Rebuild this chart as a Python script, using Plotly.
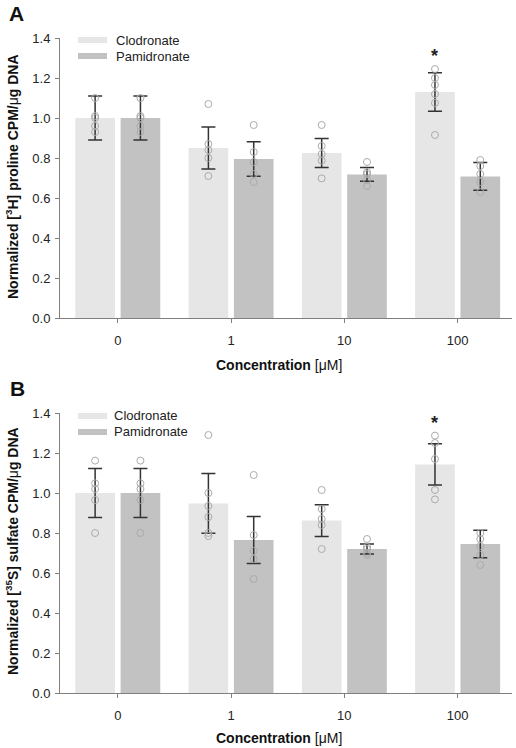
import plotly.graph_objects as go

# ---------------- data ----------------
categories = ["0", "1", "10", "100"]

# Panel A: [3H] proline
a_clod_mean = [1.00, 0.85, 0.825, 1.13]
a_clod_sd = [0.11, 0.105, 0.073, 0.096]
a_pam_mean = [1.00, 0.795, 0.718, 0.708]
a_pam_sd = [0.11, 0.086, 0.034, 0.069]
a_clod_pts = [
    [1.10, 1.01, 1.00, 0.96, 0.93],
    [1.07, 0.87, 0.84, 0.80, 0.71],
    [0.965, 0.86, 0.82, 0.787, 0.698],
    [1.245, 1.20, 1.165, 1.12, 1.075, 0.915],
]
a_pam_pts = [
    [1.10, 1.01, 1.00, 0.96, 0.93],
    [0.965, 0.83, 0.78, 0.72, 0.68],
    [0.78, 0.73, 0.72, 0.69, 0.66],
    [0.79, 0.76, 0.72, 0.68, 0.63],
]

# Panel B: [35S] sulfate
b_clod_mean = [1.00, 0.948, 0.862, 1.143]
b_clod_sd = [0.122, 0.149, 0.079, 0.103]
b_pam_mean = [1.00, 0.765, 0.72, 0.745]
b_pam_sd = [0.122, 0.117, 0.025, 0.069]
b_clod_pts = [
    [1.162, 1.048, 1.02, 0.965, 0.80],
    [1.29, 1.0, 0.935, 0.88, 0.80, 0.785],
    [1.015, 0.92, 0.87, 0.84, 0.72],
    [1.287, 1.25, 1.17, 1.015, 0.968],
]
b_pam_pts = [
    [1.162, 1.048, 1.02, 0.965, 0.80],
    [1.09, 0.79, 0.71, 0.67, 0.57],
    [0.77, 0.73, 0.72, 0.70, 0.69],
    [0.80, 0.77, 0.735, 0.69, 0.64],
]

star_a = 1.31
star_b = 1.35

series_names = ["Clodronate", "Pamidronate"]

# ---------------- style ----------------
W, H = 516, 748
ML, MR, MT, MB = 60, 4, 38, 55
PW, PH = W - ML - MR, H - MT - MB
C_CLOD = "#e6e6e6"
C_PAM = "#c2c2c2"
C_PT = "#ababab"
C_ERR = "#333333"
AXC = "#7f7f7f"
FONT = "Arial, Liberation Sans, sans-serif"
OFF = 0.2
BW = 0.35


def px(x):
    return (x - ML) / PW


def py(y):
    return (H - MB - y) / PH


fig = go.Figure()

panels = [
    ("x", "y", a_clod_mean, a_clod_sd, a_pam_mean, a_pam_sd, a_clod_pts, a_pam_pts),
    ("x2", "y2", b_clod_mean, b_clod_sd, b_pam_mean, b_pam_sd, b_clod_pts, b_pam_pts),
]
for xa, ya, cm, cs, pm, ps, cp, pp in panels:
    for means, sds, pts, col, sgn in [(cm, cs, cp, C_CLOD, -1), (pm, ps, pp, C_PAM, 1)]:
        xs = [i + sgn * OFF for i in range(len(categories))]
        fig.add_trace(go.Bar(
            x=xs, y=means, width=BW, marker=dict(color=col, line=dict(width=0)),
            error_y=dict(type="data", array=sds, color=C_ERR, thickness=1.5, width=7),
            xaxis=xa, yaxis=ya, showlegend=False))
        px_, py_ = [], []
        for i, p in enumerate(pts):
            px_ += [i + sgn * OFF] * len(p)
            py_ += p
        fig.add_trace(go.Scatter(
            x=px_, y=py_, mode="markers",
            marker=dict(symbol="circle-open", size=7, color=C_PT, line=dict(width=1, color=C_PT)),
            xaxis=xa, yaxis=ya, showlegend=False))

xcommon = dict(range=[-0.51, 3.48], tickvals=list(range(len(categories))), ticktext=categories,
               showline=True, linecolor=AXC, linewidth=1, ticks="outside", ticklen=4,
               tickcolor=AXC, showgrid=False, zeroline=False,
               tickfont=dict(size=13, color="#222", family=FONT), ticklabelstandoff=6)
ycommon = dict(range=[0, 1.4], dtick=0.2, tickformat=".1f", showline=True, linecolor=AXC,
               linewidth=1, ticks="outside", ticklen=4, tickcolor=AXC, showgrid=False,
               zeroline=False, tickfont=dict(size=13, color="#222", family=FONT),
               ticklabelstandoff=2)

yA_top, yA_bot = 38, 318
yB_top, yB_bot = 413, 693

fig.update_layout(
    width=W, height=H, margin=dict(l=ML, r=MR, t=MT, b=MB),
    paper_bgcolor="white", plot_bgcolor="white", barmode="overlay",
    font=dict(family=FONT, color="#222"),
    xaxis=dict(domain=[0, 1], anchor="y", **xcommon),
    yaxis=dict(domain=[py(yA_bot), py(yA_top)], anchor="x", **ycommon),
    xaxis2=dict(domain=[0, 1], anchor="y2", **xcommon),
    yaxis2=dict(domain=[py(yB_bot), py(yB_top)], anchor="x2", **ycommon),
)

shapes = []
ann = []

# legends
for (top, txtx) in [(40, 114), (416, 112)]:
    for k, (name, col) in enumerate(zip(series_names, [C_CLOD, C_PAM])):
        yc = top + 16 * k
        shapes.append(dict(type="rect", xref="paper", yref="paper",
                           x0=px(78), x1=px(107), y0=py(yc + 3), y1=py(yc - 3),
                           fillcolor=col, line=dict(width=0), layer="above"))
        ann.append(dict(text=name, xref="paper", yref="paper", x=px(txtx), y=py(yc),
                        xanchor="left", yanchor="middle", showarrow=False,
                        font=dict(size=13, color="#222", family=FONT)))

# asterisks
ann.append(dict(text="<b>*</b>", x=3 - OFF, y=star_a, xref="x", yref="y", showarrow=False,
                yanchor="middle", font=dict(size=18, color="#222", family=FONT)))
ann.append(dict(text="<b>*</b>", x=3 - OFF, y=star_b, xref="x2", yref="y2", showarrow=False,
                yanchor="middle", font=dict(size=18, color="#222", family=FONT)))

# axis titles
xt = "<b>Concentration</b> [μM]"
ann.append(dict(text=xt, xref="paper", yref="paper", x=px(279), y=py(365), showarrow=False,
                xanchor="center", yanchor="middle", font=dict(size=14, color="#111", family=FONT)))
ann.append(dict(text=xt, xref="paper", yref="paper", x=px(279), y=py(738), showarrow=False,
                xanchor="center", yanchor="middle", font=dict(size=14, color="#111", family=FONT)))
ann.append(dict(text="<b>Normalized [<sup>3</sup>H] proline CPM/</b>μ<b>g DNA</b>",
                xref="paper", yref="paper", x=px(12), y=py(177), textangle=-90, showarrow=False,
                xanchor="center", yanchor="middle", font=dict(size=14, color="#111", family=FONT)))
ann.append(dict(text="<b>Normalized [<sup>35</sup>S] sulfate CPM/</b>μ<b>g DNA</b>",
                xref="paper", yref="paper", x=px(12), y=py(551), textangle=-90, showarrow=False,
                xanchor="center", yanchor="middle", font=dict(size=14, color="#111", family=FONT)))

# panel letters
ann.append(dict(text="<b>A</b>", xref="paper", yref="paper", x=px(7), y=py(13), showarrow=False,
                xanchor="left", yanchor="middle", font=dict(size=21, color="#111", family=FONT)))
ann.append(dict(text="<b>B</b>", xref="paper", yref="paper", x=px(8), y=py(388), showarrow=False,
                xanchor="left", yanchor="middle", font=dict(size=21, color="#111", family=FONT)))

fig.update_layout(shapes=shapes, annotations=ann)
fig.write_html("out.html", config={"displayModeBar": False},
               post_script="document.body.style.margin='0';")
